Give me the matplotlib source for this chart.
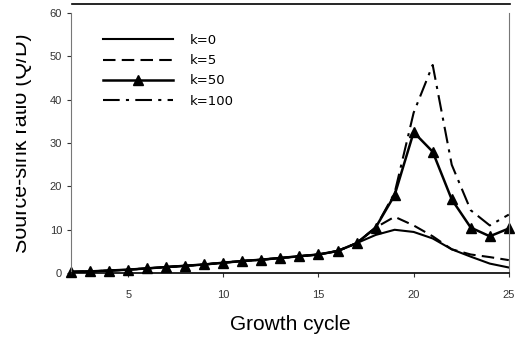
import matplotlib
matplotlib.use("Agg")
import matplotlib.pyplot as plt
from matplotlib.lines import Line2D
from matplotlib.transforms import Bbox, TransformedBbox

plt.rcParams['font.family'] = ['Liberation Sans', 'DejaVu Sans']

cycles = list(range(2, 26))
k0 = [0.3, 0.4, 0.6, 0.8, 1.1, 1.4, 1.7, 2.0, 2.4, 2.8, 3.1, 3.5, 3.9, 4.3, 5.1, 6.9, 8.8, 10.0, 9.5, 8.0, 5.5, 3.8, 2.2, 1.3]
k5 = [0.3, 0.4, 0.6, 0.8, 1.1, 1.4, 1.7, 2.0, 2.4, 2.8, 3.1, 3.5, 3.9, 4.3, 5.1, 6.9, 10.5, 13.0, 11.0, 8.5, 5.5, 4.3, 3.7, 3.0]
k50 = [0.3, 0.4, 0.6, 0.8, 1.1, 1.4, 1.7, 2.0, 2.4, 2.8, 3.1, 3.5, 3.9, 4.3, 5.1, 6.9, 10.5, 18.0, 32.5, 28.0, 17.0, 10.5, 8.5, 10.3]
k100 = [0.3, 0.4, 0.6, 0.8, 1.1, 1.4, 1.7, 2.0, 2.4, 2.8, 3.1, 3.5, 3.9, 4.3, 5.1, 6.9, 10.5, 18.5, 37.0, 48.0, 25.0, 14.5, 11.0, 13.5]
labels = ["k=0", "k=5", "k=50", "k=100"]

fig = plt.figure(figsize=(5.15, 3.41), dpi=100)
ax = fig.add_axes([0.138, 0.199, 0.850, 0.763])

ax.plot(cycles, k0, color='black', lw=1.5, ls='-', label=labels[0])
ax.plot(cycles, k5, color='black', lw=1.5, ls=(0, (6, 3)), label=labels[1])
ax.plot(cycles, k50, color='black', lw=1.8, ls='-', marker='^', markersize=7, label=labels[2], clip_on=False)
ax.plot(cycles, k100, color='black', lw=1.5, ls=(0, (8, 3, 1.5, 3)), label=labels[3])

ax.set_xlim(2, 25)
ax.set_ylim(0, 60)
ax.set_xticks([5, 10, 15, 20, 25])
ax.set_yticks([0, 10, 20, 30, 40, 50, 60])

ax.spines['top'].set_visible(False)
ax.spines['left'].set_color('#777777')
ax.spines['right'].set_color('#777777')
ax.spines['bottom'].set_color('black')
ax.spines['bottom'].set_linewidth(1.2)
ax.tick_params(axis='both', labelsize=8, colors='#333333', length=3, width=0.8)
ax.tick_params(axis='x', pad=9)

ax.set_xlabel("Growth cycle", fontsize=15, labelpad=11)
ylab = ax.set_ylabel("Source-sink ratio (Q/D)", fontsize=15.5)
ax.yaxis.set_label_coords(-0.089, 0.5)
ylab.set_clip_box(TransformedBbox(Bbox([[16/515, 0], [1, 1]]), fig.transFigure))
ylab.set_clip_on(True)

leg = ax.legend(loc='upper left', bbox_to_anchor=(0.045, 0.965), frameon=False,
                handlelength=5.3, handletextpad=1.3, labelspacing=0.55,
                prop={'family': 'DejaVu Sans', 'size': 9.5})

fig.add_artist(Line2D([72/515, 510/515], [1 - 4/341, 1 - 4/341], color='black', lw=1.2, transform=fig.transFigure))

fig.savefig("out.png", dpi=100)
